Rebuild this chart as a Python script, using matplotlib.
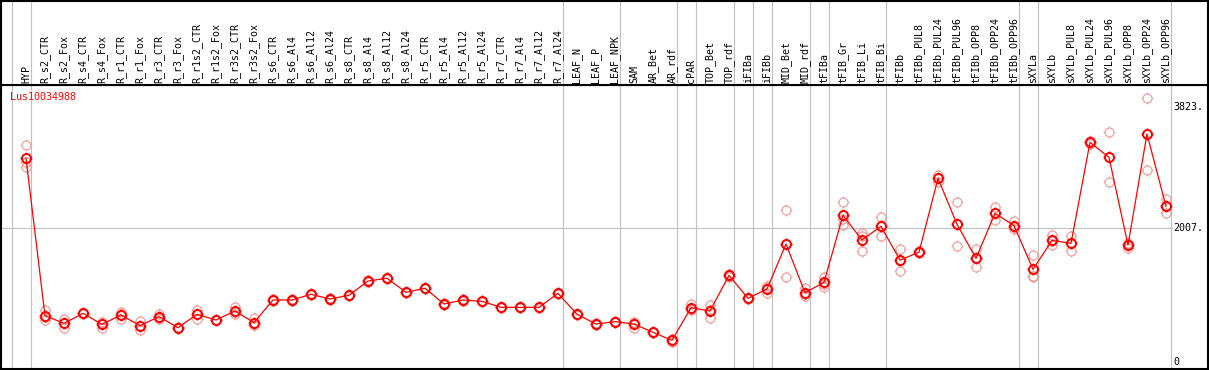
import matplotlib
matplotlib.use("Agg")
import matplotlib.pyplot as plt
from matplotlib.path import Path

# sample names, in plotting order
samples = ["HYP",
           "R_s2_CTR", "R_s2_Fox", "R_s4_CTR", "R_s4_Fox", "R_r1_CTR", "R_r1_Fox",
           "R_r3_CTR", "R_r3_Fox", "R_r1s2_CTR", "R_r1s2_Fox", "R_r3s2_CTR", "R_r3s2_Fox",
           "R_s6_CTR", "R_s6_Al4", "R_s6_Al12", "R_s6_Al24",
           "R_s8_CTR", "R_s8_Al4", "R_s8_Al12", "R_s8_Al24",
           "R_r5_CTR", "R_r5_Al4", "R_r5_Al12", "R_r5_Al24",
           "R_r7_CTR", "R_r7_Al4", "R_r7_Al12", "R_r7_Al24",
           "LEAF_N", "LEAF_P", "LEAF_NPK", "SAM", "AR_Bet", "AR_rdf", "cPAR",
           "TOP_Bet", "TOP_rdf", "iFIBa", "iFIBb", "MID_Bet", "MID_rdf", "tFIBa",
           "tFIB_Gr", "tFIB_Li", "tFIB_Bi", "tFIBb",
           "tFIBb_PUL8", "tFIBb_PUL24", "tFIBb_PUL96", "tFIBb_OPP8", "tFIBb_OPP24", "tFIBb_OPP96",
           "sXYLa", "sXYLb",
           "sXYLb_PUL8", "sXYLb_PUL24", "sXYLb_PUL96", "sXYLb_OPP8", "sXYLb_OPP24", "sXYLb_OPP96"]

# mean expression per sample
means = [3051,
         694, 579, 729, 564, 704, 544, 679, 514, 714, 629, 764, 589,
         929, 929, 1014, 944, 999, 1213, 1254, 1044,
         1104, 869, 929, 909, 819, 819, 819, 1029,
         714, 569, 604, 569, 444, 324, 814,
         764, 1298, 954, 1093, 1767, 1038, 1193,
         2197, 1827, 2032, 1525,
         1645, 2751, 2062, 1553, 2227, 2042,
         1388, 1822,
         1777, 3290, 3065, 1752, 3415, 2332]

# replicate values (three per sample)
rep_a = [3250,
         779, 644, 740, 604, 754, 619, 714, 520, 779, 635, 829, 654,
         937, 937, 1022, 952, 1007, 1221, 1262, 1052,
         1112, 877, 937, 917, 827, 827, 827, 1037,
         722, 577, 612, 604, 452, 339, 869,
         854, 1320, 962, 1138, 2272, 1104, 1278,
         2392, 1927, 2172, 1688,
         1660, 2801, 2392, 1688, 2321, 2112,
         1598, 1897,
         1887, 3310, 3440, 1712, 3949, 2437]
rep_b = [3000,
         629, 514, 720, 514, 644, 479, 644, 508, 644, 624, 714, 554,
         921, 921, 1006, 936, 991, 1205, 1246, 1036,
         1096, 861, 921, 901, 811, 811, 811, 1021,
         706, 561, 596, 514, 436, 299, 779,
         654, 1280, 946, 1038, 1268, 988, 1128,
         2052, 1662, 1882, 1368,
         1630, 2700, 1733, 1418, 2122, 1992,
         1278, 1752,
         1667, 3270, 2691, 1760, 2876, 2227]
rep_c = [2920,
         680, 580, 727, 575, 714, 534, 679, 514, 719, 628, 749, 559,
         929, 929, 1014, 944, 999, 1213, 1254, 1044,
         1104, 869, 929, 909, 819, 819, 819, 1029,
         714, 569, 604, 589, 444, 334, 794,
         784, 1295, 954, 1103, 1761, 1022, 1173,
         2147, 1892, 2042, 1519,
         1645, 2752, 2061, 1553, 2238, 2022,
         1288, 1817,
         1777, 3290, 3064, 1784, 3420, 2332]

# index of first sample of each group (last entry = end)
group_starts = [0, 1, 29, 32, 35, 36, 38, 39, 40, 42, 43, 46, 53, 54, 61]

y_ticks = [0, 2007, 3823]
y_tick_labels = ["0", "2007.", "3823."]
gene = "Lus10034988"

W, H = 1209, 370
font = "DejaVu Sans Mono"
fs = 7.2
grey = "#c0c0c0"

# circle marker with four little ticks
ticks = Path([(0, 1), (0, 1.3), (0, -1), (0, -1.3), (1, 0), (1.3, 0), (-1, 0), (-1.3, 0)],
             [Path.MOVETO, Path.LINETO] * 4)
mark = Path.make_compound_path(Path.unit_circle(), ticks)

fig = plt.figure(figsize=(W / 100, H / 100), dpi=100)

# pixel layout: sample i sits at x = 26 + 19*i
xl = ((1 - 26) / 19, (1208 - 26) / 19)
ax = fig.add_axes([1 / W, 1 / H, 1207 / W, 284 / H])
hd = fig.add_axes([1 / W, 285 / H, 1207 / W, 84 / H])
for a in (ax, hd):
    a.set_xlim(xl)
    a.set_xticks([])
    a.set_yticks([])
    for s in a.spines.values():
        s.set_linewidth(1.5)
        s.set_color("black")
ax.set_ylim(-105, 4149)
hd.set_ylim(0, 1)

# group separators
for g in group_starts:
    ax.axvline(g - 0.76, color=grey, lw=0.8, zorder=0)
    hd.axvline(g - 0.76, color=grey, lw=0.8, zorder=0)

ax.axhline(2007, xmin=0, xmax=(1172 - 1) / 1207, color=grey, lw=0.8, zorder=0)

x = list(range(len(samples)))
for reps in (rep_a, rep_b, rep_c):
    ax.plot(x, reps, ls="none", marker=mark, ms=8.4, mfc="none", mec="#f0a0a0",
            mew=0.9, zorder=2)
ax.plot(x, means, color="red", lw=0.9, marker=mark, ms=8.4, mfc="none", mec="red",
        mew=1.4, zorder=3)

# sample labels in header
for i, s in enumerate(samples):
    hd.text(i, 0.02, s, rotation=90, ha="center", va="bottom", family=font,
            fontsize=fs, color="black")

# value labels at the right
for v, t in zip(y_ticks, y_tick_labels):
    ax.text((1173 - 1) / 1207, v, t, transform=ax.get_yaxis_transform(),
            ha="left", va="center", family=font, fontsize=fs, color="black")

fig.text(10 / W, 1 - 97 / H, gene, color="red", family=font, fontsize=fs,
         ha="left", va="center")

fig.savefig("out.png", dpi=100)
